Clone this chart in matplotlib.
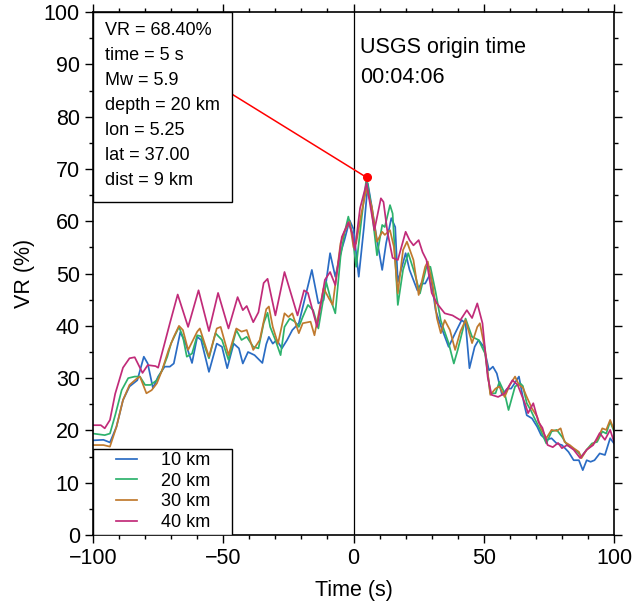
# VR versus time for four trial depths
import matplotlib
matplotlib.use("Agg")
import matplotlib.pyplot as plt
from matplotlib.patches import Rectangle
from matplotlib.ticker import MultipleLocator

plt.rcParams['font.family'] = ['Liberation Sans', 'DejaVu Sans']

# 10 km
t10 = [-100, -96, -93.5, -91, -88.5, -86, -83, -80.5, -79, -77, -75, -72.5, -70.5, -69,
       -66.5, -64.5, -62, -60, -58.5, -55.5, -52.5, -50.5, -48.5, -46, -44, -42.5, -40.5,
       -38, -35, -33.5, -32.5, -31, -29.5, -27.5, -25.5, -23.5, -21, -18.5, -16, -13.5,
       -11.5, -9, -7, -5, -3.5, -1.5, 0, 2, 4, 5.5, 7, 9, 11, 12.5, 14.5, 16, 17, 20,
       21.5, 24.5, 26, 27.5, 29.5, 31.5, 33.5, 36.5, 39, 41.5, 43, 44.5, 46.5, 48, 50,
       52, 53.5, 55, 57, 59, 60.5, 63.5, 65.5, 66.5, 68.5, 70.5, 72, 74, 76, 78, 80,
       82.5, 84.5, 86.5, 88, 89.5, 91, 92.5, 94.5, 96.5, 98.5, 100]
vr10 = [18.1, 18.2, 17.7, 20.7, 25.8, 28.4, 29.6, 34.1, 32.8, 28.1, 30.3, 32.2, 32.2, 32.8,
        38.8, 36.7, 32.9, 37.9, 37.3, 31.2, 36.6, 36.0, 31.9, 36.6, 35.7, 32.8, 35.0,
        34.4, 32.9, 36.5, 37.9, 36.6, 37.3, 35.7, 37.3, 39.2, 40.5, 45.6, 50.7, 44.3,
        44.9, 53.9, 49.4, 53.9, 56.4, 60.2, 58.5, 49.4, 58.9, 67.2, 62.8, 56.4, 50.7, 55.8,
        60.6, 58.9, 48.4, 53.9, 50.7, 46.8, 48.1, 48.1, 50.0, 43.0, 40.0, 36.0, 38.6,
        41.1, 40.5, 31.9, 36.0, 37.3, 36.0, 31.5, 32.2, 30.9, 26.8, 28.0, 28.0, 30.3,
        25.0, 22.9, 22.3, 20.7, 19.1, 18.2, 18.5, 17.5, 17.2, 15.9, 14.3, 14.3, 12.4,
        14.3, 14.0, 14.3, 15.6, 15.3, 18.5, 17.5]

# 20 km
t20 = [-100, -95.5, -93.5, -91.5, -89, -86.5, -84, -82, -80, -78, -75.5, -73.5, -71.5, -70,
       -67, -65.5, -64, -62, -60, -58.5, -55.5, -53, -50.5, -48, -45, -43, -41, -38.5,
       -36.5, -34.5, -33, -32, -30, -28, -26.5, -24.5, -22.5, -21, -19.5, -17.5, -15.5,
       -13.5, -10.5, -8.5, -7, -5, -3.5, -2, -0.5, 1, 3, 5, 7, 9, 11, 12, 14, 15, 17, 19,
       21, 23.5, 25.5, 28, 29.5, 31.5, 33.5, 36.5, 38.5, 40, 43, 45.5, 48, 50.5, 52.5,
       54.5, 56, 58, 59.5, 62, 64, 65, 66.5, 68, 69.5, 72, 74, 76, 78, 80, 82, 84, 86,
       87.5, 89.5, 91.5, 93.5, 95.5, 97, 98.5, 100]
vr20 = [19.4, 19.1, 19.4, 22.9, 27.7, 30.0, 30.3, 30.3, 28.7, 28.7, 29.6, 31.5, 34.1, 36.7,
        39.8, 37.9, 34.1, 34.7, 38.2, 38.0, 33.8, 38.6, 37.3, 33.5, 39.2, 37.3, 37.9, 36.0,
        35.7, 40.5, 42.5, 39.8, 37.3, 34.4, 39.8, 41.4, 40.8, 39.8, 41.7, 44.0, 43.0,
        39.5, 48.4, 44.6, 42.4, 53.2, 57.7, 60.9, 57.7, 51.3, 60.2, 68.4, 62.2, 53.5, 59.3,
        58.9, 63.1, 61.5, 44.0, 50.7, 53.9, 50.0, 46.2, 51.3, 51.3, 46.5, 41.0, 36.7,
        32.8, 35.4, 41.4, 37.9, 37.3, 34.7, 27.1, 27.1, 29.3, 27.1, 23.9, 28.4, 29.0, 28.5,
        25.2, 23.9, 22.3, 19.8, 17.5, 19.8, 20.1, 18.8, 17.2, 16.6, 15.9, 15.0, 16.3,
        17.5, 17.8, 19.8, 19.4, 21.7, 19.8]

# 30 km
t30 = [-100, -96, -93.5, -91, -88.5, -86, -83, -82, -79.5, -77.5, -75.5, -73.5, -71, -69,
       -67, -65.5, -63.5, -60, -59, -55.5, -52.5, -51, -48, -45, -43, -41, -38.5, -36,
       -33.5, -32.5, -31, -29, -26.5, -25, -23.5, -21, -19.5, -16.5, -15, -11.5, -9.5, -8,
       -5, -3.5, -1.5, 0, 1, 3, 5, 7, 9, 11, 12, 14, 15.5, 17, 19, 20.5, 23, 25, 27.5,
       28.5, 30.5, 32, 33.5, 35, 37, 39, 41, 43, 45.5, 47.5, 48.5, 50.5, 52.5, 54.5, 56,
       58, 60, 62, 63.5, 65, 66.5, 68.5, 70.5, 72, 74, 76, 78, 79.5, 81, 83, 84.5, 86.5,
       87.5, 89.5, 91.5, 93.5, 95.5, 97, 98.5, 100]
vr30 = [17.2, 17.2, 16.9, 20.7, 25.8, 28.7, 30.0, 30.3, 27.1, 27.7, 29.0, 31.5, 35.4, 37.9,
        40.0, 39.2, 35.4, 38.9, 39.5, 34.1, 39.5, 39.8, 34.4, 39.5, 38.9, 39.2, 35.4, 37.3,
        43.2, 43.7, 39.8, 36.6, 42.4, 41.7, 42.4, 38.6, 40.5, 40.8, 38.2, 47.2, 45.3, 44.0,
        55.8, 58.0, 59.9, 55.0, 55.8, 61.5, 66.3, 62.8, 56.1, 58.0, 57.4, 58.3, 55.1, 46.2,
        54.5, 56.1, 52.6, 45.9, 51.3, 52.3, 47.5, 41.5, 38.6, 41.1, 39.2, 35.4, 38.9,
        41.1, 36.7, 39.8, 40.5, 35.4, 26.8, 28.0, 28.4, 26.4, 28.7, 30.3, 28.7, 28.2,
        26.4, 24.2, 22.6, 20.4, 18.5, 20.1, 19.9, 20.4, 17.8, 17.2, 16.6, 15.9, 14.7,
        16.3, 17.2, 18.2, 20.4, 20.1, 22.0, 20.1]

# 40 km
t40 = [-100, -97, -95.5, -93.5, -91.5, -88.5, -86, -84, -81, -79, -76, -75, -72.5, -70.5,
       -67.5, -63.5, -59.5, -55.5, -52, -48, -44.5, -42.5, -41, -38.5, -36.5, -34.5, -33,
       -30, -26.5, -21.5, -19, -17.5, -14, -11, -9, -7, -4.5, -2, -0.5, 0.5, 2.5, 5, 8,
       10.5, 11.5, 13, 15, 17, 20, 21.5, 23, 25, 26.5, 28, 30, 32, 35, 38, 41, 43.5,
       45.5, 47.5, 49.5, 50.5, 51.5, 53, 55.5, 58, 61, 63, 66, 67, 69, 71, 72.5, 74.5,
       76.5, 78.5, 80, 82, 84.5, 87, 89.5, 92, 94.5, 96.5, 98.5, 100]
vr40 = [21.0, 21.0, 20.4, 22.0, 27.0, 32.0, 33.8, 34.0, 31.0, 32.5, 32.3, 32.0, 36.7, 40.5,
        46.0, 39.8, 46.8, 39.0, 46.3, 39.5, 45.5, 43.0, 43.8, 40.7, 42.6, 48.2, 49.0, 42.0,
        50.3, 42.0, 46.8, 46.3, 39.8, 48.8, 50.3, 47.8, 57.0, 59.8, 57.7, 54.5, 62.5, 67.3,
        58.3, 64.4, 63.7, 58.0, 53.0, 52.6, 58.0, 56.4, 55.4, 56.4, 54.1, 52.6, 46.3, 44.3,
        42.4, 42.0, 41.1, 43.0, 41.5, 44.3, 40.5, 35.4, 30.2, 26.8, 26.4, 27.1, 29.6,
        28.7, 24.9, 23.3, 25.2, 21.6, 20.5, 17.2, 16.8, 17.6, 16.6, 17.2, 16.3, 14.7,
        16.3, 17.2, 19.5, 18.2, 20.1, 17.8]

depths = ['10 km', '20 km', '30 km', '40 km']
colors = ['#2a6cc4', '#2db26c', '#c07a2e', '#c12b79']

best_t, best_vr = 5, 68.4
info = ['VR = 68.40%', 'time = 5 s', 'Mw = 5.9', 'depth = 20 km',
        'lon = 5.25', 'lat = 37.00', 'dist = 9 km']
origin_label = ['USGS origin time', '00:04:06']

fig = plt.figure(figsize=(6.35, 6.1), dpi=100)
ax = fig.add_axes([0.1465, 0.123, 0.8205, 0.857])

for t, v, c, lab in zip([t10, t20, t30, t40], [vr10, vr20, vr30, vr40], colors, depths):
    ax.plot(t, v, color=c, lw=1.25, label=lab, zorder=2, solid_joinstyle='round')

ax.axvline(0, color='black', lw=0.9, zorder=1)

# red pointer from the info box to the best solution
ax.plot([-46.6, best_t], [84.3, best_vr], color='red', lw=1.1, zorder=3)
ax.plot(best_t, best_vr, 'o', color='red', ms=5.5, zorder=4)

ax.text(2.5, 93.3, origin_label[0], fontsize=15.5, va='center', ha='left')
ax.text(2.5, 87.6, origin_label[1], fontsize=15.5, va='center', ha='left')

# info box
ax.add_patch(Rectangle((0, 0.637), 0.267, 0.363, transform=ax.transAxes,
                       facecolor='white', edgecolor='black', lw=1.0, zorder=5))
for i, s in enumerate(info):
    ax.text(0.023, 0.9656 - i * 0.0478, s, transform=ax.transAxes, fontsize=13,
            va='center', ha='left', zorder=6)

# legend box
ax.add_patch(Rectangle((0, 0), 0.267, 0.1644, transform=ax.transAxes,
                       facecolor='white', edgecolor='black', lw=1.0, zorder=5))
leg = ax.legend(loc='upper left', bbox_to_anchor=(0.044, 0.1587), frameon=False,
                fontsize=13, borderpad=0, borderaxespad=0, handlelength=1.15,
                handletextpad=1.37, labelspacing=0.2)
leg.set_zorder(6)

ax.set_xlim(-100, 100)
ax.set_ylim(0, 100)
ax.xaxis.set_major_locator(MultipleLocator(50))
ax.xaxis.set_minor_locator(MultipleLocator(10))
ax.yaxis.set_major_locator(MultipleLocator(10))
ax.yaxis.set_minor_locator(MultipleLocator(5))
ax.tick_params(which='both', direction='out', top=True, right=True, width=1.0,
               labelsize=15.5)
ax.tick_params(which='major', length=6)
ax.tick_params(which='minor', length=3)
for sp in ax.spines.values():
    sp.set_linewidth(1.2)

ax.set_xlabel('Time (s)', fontsize=15.5, labelpad=8)
ax.set_ylabel('VR (%)', fontsize=15.5, labelpad=6)

fig.savefig('out.png', dpi=100)
